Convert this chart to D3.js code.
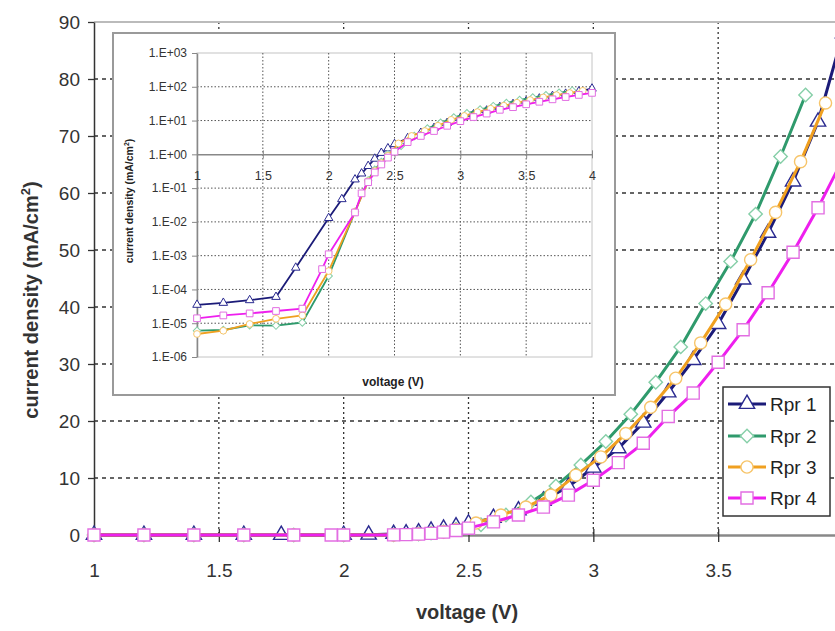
<!DOCTYPE html>
<html><head><meta charset="utf-8">
<script src="https://cdn.jsdelivr.net/npm/d3@7"></script>
<style>body{margin:0;background:#fff;} svg{display:block;font-family:Arial,"Liberation Sans",sans-serif;}</style>
</head><body><svg id="c" width="835" height="631"></svg>
<script>
// ---------- data ----------
const seriesNames = ["Rpr 1", "Rpr 2", "Rpr 3", "Rpr 4"];
const rpr1V = [1.0,1.2,1.4,1.6,1.75,2.0,2.1,2.2,2.25,2.3,2.35,2.4,2.45,2.5,2.6,2.7,2.8,2.9,3.0,3.1,3.2,3.3,3.4,3.5,3.6,3.7,3.8,3.9,4.0];
const rpr1J = [3.5e-5,4.0e-5,4.8e-5,6.0e-5,4.4e-4,1.3e-2,4.7e-2,0.18,0.27,0.45,0.74,1.1,1.5,2.0,3.0,4.3,6.0,8.5,11.8,15.2,19.7,25.0,30.7,37.0,44.8,53.0,62.0,72.5,88.0];
const rpr2V = [1.0,1.2,1.4,1.6,1.8,2.0,2.2,2.3,2.35,2.4,2.45,2.55,2.65,2.75,2.85,2.95,3.05,3.15,3.25,3.35,3.45,3.55,3.65,3.75,3.85];
const rpr2J = [6.0e-6,6.3e-6,8.7e-6,8.5e-6,1.05e-5,2.5e-4,2.0e-2,0.17,0.35,0.6,1.0,1.8,3.5,5.8,8.6,12.3,16.4,21.2,26.8,33.0,40.6,48.0,56.3,66.4,77.2];
const rpr3V = [1.0,1.2,1.4,1.6,1.8,2.0,2.2,2.3,2.35,2.4,2.45,2.53,2.63,2.73,2.83,2.93,3.03,3.13,3.23,3.33,3.43,3.53,3.63,3.73,3.83,3.93];
const rpr3J = [4.8e-6,6.0e-6,9.5e-6,1.35e-5,1.7e-5,3.5e-4,2.0e-2,0.16,0.32,0.55,0.9,2.1,3.5,4.9,7.0,10.5,13.7,17.8,22.4,27.5,33.7,40.5,48.3,56.6,65.5,75.8];
const rpr4V = [1.0,1.2,1.4,1.6,1.8,1.95,2.0,2.2,2.25,2.3,2.35,2.4,2.45,2.5,2.6,2.7,2.8,2.9,3.0,3.1,3.2,3.3,3.4,3.5,3.6,3.7,3.8,3.9,4.0];
const rpr4J = [1.4e-5,1.7e-5,1.95e-5,2.3e-5,2.7e-5,4.0e-4,1.1e-3,1.9e-2,0.07,0.15,0.29,0.5,0.8,1.2,2.3,3.5,4.9,7.0,9.6,12.7,16.1,20.8,24.9,30.3,36.0,42.5,49.6,57.4,66.0];
const mainXTicks = [1, 1.5, 2, 2.5, 3, 3.5, 4];
const mainYTicks = [0, 10, 20, 30, 40, 50, 60, 70, 80, 90];
const insetXTicks = [1, 1.5, 2, 2.5, 3, 3.5, 4];
const insetYTicks = [1e-6, 1e-5, 1e-4, 1e-3, 1e-2, 1e-1, 1e0, 1e1, 1e2, 1e3];

const seriesV = [rpr1V, rpr2V, rpr3V, rpr4V];
const seriesJ = [rpr1J, rpr2J, rpr3J, rpr4J];
const styles = [
  {line: "#1b1b78", mk: "#2a2a90", shape: "triangle"},
  {line: "#2f9a6c", mk: "#86cfa8", shape: "diamond"},
  {line: "#f0a020", mk: "#f7c56a", shape: "circle"},
  {line: "#ee1fee", mk: "#e26ee2", shape: "square"}
];
const symType = {triangle: d3.symbolTriangle, diamond: d3.symbolSquare, circle: d3.symbolCircle, square: d3.symbolSquare};
const FONT = "Arial, 'Liberation Sans', sans-serif";

const svg = d3.select("#c");
svg.append("rect").attr("width", 835).attr("height", 631).attr("fill", "#fff");

// ---------- main chart ----------
const x = d3.scaleLinear().domain([1, 4]).range([94, 843]);
const y = d3.scaleLinear().domain([0, 90]).range([535, 22]);

svg.append("g").selectAll("line").data(mainYTicks.filter(d => d > 0 && d < 90)).join("line")
  .attr("x1", x(1)).attr("x2", 835).attr("y1", d => y(d)).attr("y2", d => y(d))
  .attr("stroke", "#333").attr("stroke-width", 1.3).attr("stroke-dasharray", "4,4");
svg.append("g").selectAll("line").data(mainXTicks.filter(d => d > 1)).join("line")
  .attr("x1", d => x(d)).attr("x2", d => x(d)).attr("y1", y(90)).attr("y2", y(0))
  .attr("stroke", "#333").attr("stroke-width", 1.3).attr("stroke-dasharray", "2,3");
svg.append("line").attr("x1", x(1)).attr("x2", 835).attr("y1", y(90)).attr("y2", y(90))
  .attr("stroke", "#bbb").attr("stroke-width", 2);

const yAxis = svg.append("g").attr("transform", `translate(${x(1)},0)`)
  .call(d3.axisLeft(y).tickValues(mainYTicks).tickSize(6).tickPadding(8).tickSizeOuter(0));
yAxis.select(".domain").attr("stroke", "#333").attr("stroke-width", 1.5);
yAxis.selectAll(".tick line").attr("stroke", "#333").attr("stroke-width", 1.3);
yAxis.selectAll("text").attr("font-size", 19).attr("fill", "#333").attr("font-family", FONT);

const xAxis = svg.append("g").attr("transform", `translate(0,${y(0)})`)
  .call(d3.axisBottom(x).tickValues(mainXTicks).tickFormat(d3.format("")).tickSize(7).tickPadding(22).tickSizeOuter(0));
xAxis.select(".domain").attr("stroke", "#888").attr("stroke-width", 2.5);
xAxis.selectAll(".tick line").attr("stroke", "#333").attr("stroke-width", 1.3).attr("y1", -6);
xAxis.selectAll("text").attr("font-size", 19).attr("fill", "#333").attr("font-family", FONT);

const yt = svg.append("text").attr("transform", "translate(38,300) rotate(-90)")
  .attr("text-anchor", "middle").attr("font-size", 20).attr("font-weight", "bold").attr("fill", "#333");
yt.append("tspan").text("current density (mA/cm");
yt.append("tspan").attr("font-size", 13).attr("dy", -8).text("2");
yt.append("tspan").attr("dy", 8).text(")");
svg.append("text").attr("x", 467).attr("y", 619).attr("text-anchor", "middle")
  .attr("font-size", 20).attr("font-weight", "bold").attr("fill", "#333").text("voltage (V)");

function symSize(shape, s) {
  return shape === "diamond" ? s * 0.62 : shape === "circle" ? s * 0.8 : shape === "triangle" ? s * 0.7 : s;
}
function drawSeries(g, xs, ys, V, J, st, mkSize, lw, mkw) {
  const pts = V.map((v, i) => [xs(v), ys(J[i])]);
  g.append("path").attr("d", d3.line()(pts)).attr("fill", "none")
    .attr("stroke", st.line).attr("stroke-width", lw).attr("stroke-linejoin", "round");
  g.append("g").selectAll("path").data(pts).join("path")
    .attr("transform", p => `translate(${p[0]},${p[1]})` + (st.shape === "diamond" ? " rotate(45)" : ""))
    .attr("d", d3.symbol().type(symType[st.shape]).size(symSize(st.shape, mkSize)))
    .attr("fill", "#fff").attr("stroke", st.mk).attr("stroke-width", mkw);
}

const mainG = svg.append("g");
seriesV.forEach((V, i) => drawSeries(mainG, x, y, V, seriesJ[i], styles[i], 145, 3, 1.4));

// legend
const lg = svg.append("g");
lg.append("rect").attr("x", 723).attr("y", 387).attr("width", 107).attr("height", 129)
  .attr("fill", "#fff").attr("stroke", "#333").attr("stroke-width", 1.5);
const legRows = [404, 436, 467, 498];
seriesNames.forEach((n, i) => {
  const st = styles[i];
  lg.append("line").attr("x1", 728).attr("x2", 766).attr("y1", legRows[i]).attr("y2", legRows[i])
    .attr("stroke", st.line).attr("stroke-width", 3);
  lg.append("path").attr("transform", `translate(747,${legRows[i]})` + (st.shape === "diamond" ? " rotate(45)" : ""))
    .attr("d", d3.symbol().type(symType[st.shape]).size(symSize(st.shape, 145)))
    .attr("fill", "#fff").attr("stroke", st.mk).attr("stroke-width", 1.4);
  lg.append("text").attr("x", 770).attr("y", legRows[i]).attr("dy", "0.36em")
    .attr("font-size", 19).attr("fill", "#222").text(n);
});

// ---------- inset ----------
const ig = svg.append("g");
ig.append("rect").attr("x", 113).attr("y", 33).attr("width", 502).attr("height", 362)
  .attr("fill", "#fff").attr("stroke", "#9a9a9a").attr("stroke-width", 2);
const xi = d3.scaleLinear().domain([1, 4]).range([197, 592]);
const yi = d3.scaleLog().domain([1e-6, 1e3]).range([357, 53]);
ig.append("rect").attr("x", 197).attr("y", 53).attr("width", 395).attr("height", 304)
  .attr("fill", "none").attr("stroke", "#c4c4c4").attr("stroke-width", 1);
ig.append("g").selectAll("line").data(insetYTicks.filter(d => d !== 1 && d !== 1e3 && d !== 1e-6)).join("line")
  .attr("x1", 197).attr("x2", 592).attr("y1", d => yi(d)).attr("y2", d => yi(d))
  .attr("stroke", "#555").attr("stroke-width", 1).attr("stroke-dasharray", "1.5,2");
ig.append("g").selectAll("line").data(insetXTicks.filter(d => d > 1 && d < 4)).join("line")
  .attr("x1", d => xi(d)).attr("x2", d => xi(d)).attr("y1", 53).attr("y2", 357)
  .attr("stroke", "#555").attr("stroke-width", 1).attr("stroke-dasharray", "1.5,2");

const fmtExp = d => { const e = Math.round(Math.log10(d)); return "1.E" + (e < 0 ? "-" : "+") + String(Math.abs(e)).padStart(2, "0"); };
const yiAxis = ig.append("g").attr("transform", "translate(197,0)")
  .call(d3.axisLeft(yi).tickValues(insetYTicks).tickFormat(fmtExp).tickSize(5).tickPadding(5).tickSizeOuter(0));
yiAxis.select(".domain").attr("stroke", "#888").attr("stroke-width", 1.5);
yiAxis.selectAll(".tick line").attr("stroke", "#888");
yiAxis.selectAll("text").attr("font-size", 12).attr("fill", "#333").attr("font-family", FONT);

const xiAxis = ig.append("g").attr("transform", `translate(0,${yi(1)})`)
  .call(d3.axisBottom(xi).tickValues(insetXTicks).tickFormat(d3.format("")).tickSize(4).tickPadding(13).tickSizeOuter(0));
xiAxis.select(".domain").attr("stroke", "#888").attr("stroke-width", 1.5);
xiAxis.selectAll(".tick line").attr("stroke", "#888").attr("y1", -4);
xiAxis.selectAll("text").attr("font-size", 12.5).attr("fill", "#333").attr("font-family", FONT);

const iyt = ig.append("text").attr("transform", "translate(133,201) rotate(-90)")
  .attr("text-anchor", "middle").attr("font-size", 10.5).attr("font-weight", "bold").attr("fill", "#222");
iyt.append("tspan").text("current density (mA/cm");
iyt.append("tspan").attr("font-size", 7).attr("dy", -4).text("2");
iyt.append("tspan").attr("dy", 4).text(")");
ig.append("text").attr("x", 393).attr("y", 386).attr("text-anchor", "middle")
  .attr("font-size", 12).attr("font-weight", "bold").attr("fill", "#222").text("voltage (V)");

svg.append("defs").append("clipPath").attr("id", "iclip").append("rect")
  .attr("x", 190).attr("y", 46).attr("width", 410).attr("height", 318);
const isg = ig.append("g").attr("clip-path", "url(#iclip)");
seriesV.forEach((V, i) => drawSeries(isg, xi, yi, V, seriesJ[i], styles[i], 45, 1.8, 1));
</script></body></html>
